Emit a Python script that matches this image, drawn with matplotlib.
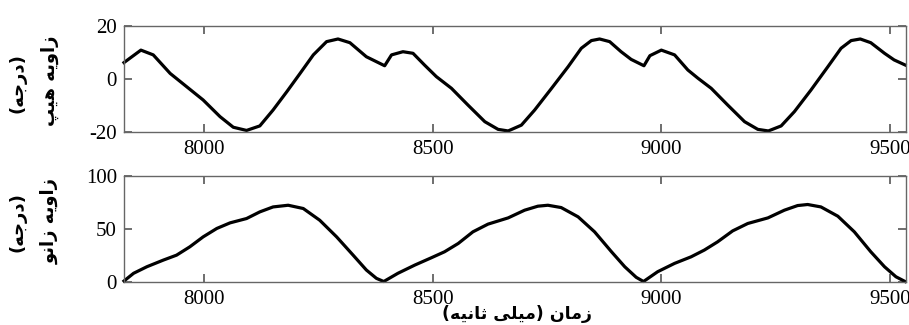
"""Hip and knee joint angle over time (two stacked panels)."""

import matplotlib

matplotlib.use("Agg")
import matplotlib.pyplot as plt

# --- Data --------------------------------------------------------------------
hip_t = [7825, 7862, 7889, 7926, 7962, 7998, 8035, 8064, 8093, 8122, 8151, 8181,
         8210, 8239, 8268, 8293, 8319, 8355, 8395, 8410, 8435, 8457, 8482, 8508,
         8541, 8577, 8614, 8643, 8665, 8694, 8723, 8760, 8796, 8825, 8847, 8865,
         8887, 8912, 8934, 8962, 8975, 9000, 9029, 9058, 9080, 9109, 9145, 9182,
         9211, 9234, 9262, 9291, 9327, 9364, 9393, 9415, 9435, 9458, 9488, 9509,
         9533]
hip_deg = [6.2, 10.9, 9.1, 2.1, -2.9, -7.9, -14.2, -18.2, -19.4, -17.7, -11.7, -4.8,
           2.1, 9.1, 14.1, 15.1, 13.7, 8.4, 5.0, 9.1, 10.3, 9.7, 5.3, 0.9,
           -3.5, -9.8, -16.1, -19.0, -19.6, -17.4, -11.7, -3.5, 4.6, 11.6, 14.5, 15.1,
           14.1, 10.3, 7.4, 5.0, 8.8, 10.9, 9.1, 3.4, 0.3, -3.5, -9.8, -16.1,
           -19.0, -19.6, -17.7, -12.3, -4.2, 4.6, 11.6, 14.5, 15.1, 13.7, 9.7, 7.2,
           5.3]

knee_t = [7825, 7846, 7875, 7911, 7940, 7969, 7998, 8028, 8057, 8093, 8122, 8151,
          8184, 8217, 8253, 8290, 8326, 8355, 8377, 8393, 8424, 8461, 8497, 8526,
          8556, 8588, 8621, 8665, 8701, 8730, 8752, 8781, 8818, 8854, 8891, 8920,
          8945, 8961, 8992, 9029, 9065, 9094, 9123, 9156, 9189, 9233, 9269, 9298,
          9320, 9349, 9386, 9422, 9458, 9488, 9513, 9533]
knee_deg = [0.5, 7.8, 14.0, 20.3, 25.0, 32.9, 42.3, 50.3, 55.6, 59.7, 66.0, 70.7,
            72.3, 69.2, 58.1, 42.3, 25.0, 10.9, 3.0, 0.0, 7.8, 15.6, 22.5, 28.2,
            36.1, 47.1, 54.4, 60.3, 67.6, 71.4, 72.3, 70.1, 61.3, 47.1, 28.2, 14.0,
            4.0, 0.0, 9.3, 17.2, 23.4, 29.8, 37.6, 48.0, 55.0, 60.3, 67.6, 72.0,
            73.0, 70.7, 61.9, 47.1, 28.2, 14.0, 4.5, 0.0]

x_ticks = [8000, 8500, 9000, 9500]
hip_ticks = [-20, 0, 20]
knee_ticks = [0, 50, 100]

hip_label = "زاویه هیپ"
knee_label = "زاویه زانو"
unit_label = "(درجه)"
time_label = "زمان (میلی ثانیه)"

# --- Minimal Persian shaping (matplotlib has no complex text layout) ---------
# isolated, final, initial, medial
_FORMS = {
    "\u0627": ("\uFE8D", "\uFE8E", None, None),
    "\u062F": ("\uFEA9", "\uFEAA", None, None),
    "\u0631": ("\uFEAD", "\uFEAE", None, None),
    "\u0632": ("\uFEAF", "\uFEB0", None, None),
    "\u0648": ("\uFEED", "\uFEEE", None, None),
    "\u062C": ("\uFE9D", "\uFE9E", "\uFE9F", "\uFEA0"),
    "\u0647": ("\uFEE9", "\uFEEA", "\uFEEB", "\uFEEC"),
    "\u06CC": ("\uFBFC", "\uFBFD", "\uFBFE", "\uFBFF"),
    "\u067E": ("\uFB56", "\uFB57", "\uFB58", "\uFB59"),
    "\u0646": ("\uFEE5", "\uFEE6", "\uFEE7", "\uFEE8"),
    "\u0645": ("\uFEE1", "\uFEE2", "\uFEE3", "\uFEE4"),
    "\u0644": ("\uFEDD", "\uFEDE", "\uFEDF", "\uFEE0"),
    "\u062B": ("\uFE99", "\uFE9A", "\uFE9B", "\uFE9C"),
}


def shape_fa(text: str) -> str:
    out = []
    for i, ch in enumerate(text):
        f = _FORMS.get(ch)
        if f is None:
            out.append(ch)
            continue
        prev = text[i - 1] if i > 0 else ""
        nxt = text[i + 1] if i + 1 < len(text) else ""
        join_prev = prev in _FORMS and _FORMS[prev][2] is not None
        join_next = f[2] is not None and nxt in _FORMS
        if join_prev and join_next:
            out.append(f[3])
        elif join_prev:
            out.append(f[1])
        elif join_next:
            out.append(f[2])
        else:
            out.append(f[0])
    mirror = {"(": ")", ")": "("}
    return "".join(mirror.get(c, c) for c in reversed(out))


# --- Plot ---------------------------------------------------------------------
plt.rcParams["font.family"] = "Liberation Serif"
plt.rcParams["axes.unicode_minus"] = False  # reference uses a plain hyphen
FA = dict(family="DejaVu Sans", fontweight="bold", fontsize=13)

fig = plt.figure(figsize=(9.09, 3.25), dpi=100)
ax1 = fig.add_axes([0.1364, 0.5938, 0.8603, 0.3262])
ax2 = fig.add_axes([0.1364, 0.1338, 0.8603, 0.3246])

panels = [
    (ax1, hip_t, hip_deg, hip_ticks, (-20, 20)),
    (ax2, knee_t, knee_deg, knee_ticks, (0, 100)),
]
for ax, t, v, yt, ylim in panels:
    ax.plot(t, v, color="black", lw=2.3, solid_joinstyle="round", clip_on=False)
    ax.set_xlim(7825, 9535)
    ax.set_ylim(*ylim)
    ax.set_xticks(x_ticks)
    ax.set_yticks(yt)
    ax.tick_params(direction="in", top=True, right=True, length=6, width=1.2,
                   color="#555555", labelsize=15, pad=5)
    ax.tick_params(axis="x", pad=6)
    for s in ax.spines.values():
        s.set_color("#666666")
        s.set_linewidth(1.0)

fig.text(50 / 909, 1 - 81 / 325, shape_fa(hip_label), rotation=90,
         ha="center", va="center", **FA)
fig.text(18 / 909, 1 - 83 / 325, shape_fa(unit_label), rotation=90,
         ha="center", va="center", **FA)
fig.text(50 / 909, 1 - 221 / 325, shape_fa(knee_label), rotation=90,
         ha="center", va="center", **FA)
fig.text(18 / 909, 1 - 222 / 325, shape_fa(unit_label), rotation=90,
         ha="center", va="center", **FA)
fig.text(517 / 909, 2 / 325, shape_fa(time_label),
         ha="center", va="bottom", **dict(FA, fontsize=12.5))

fig.savefig("out.png", dpi=100)
plt.close(fig)
